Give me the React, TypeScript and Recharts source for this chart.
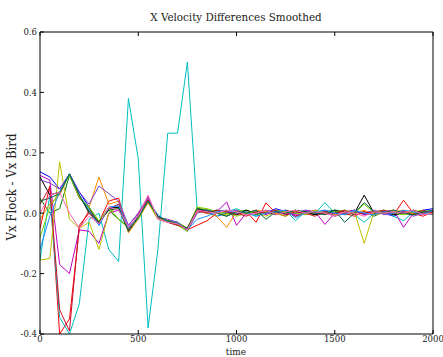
import React from "react";
import { LineChart, Line, XAxis, YAxis } from "recharts";

// sample times (every 50 steps)
const times = [
  0, 50, 100, 150, 200, 250, 300, 350, 400, 450, 500, 550, 600, 650, 700, 750, 800, 850, 900, 950, 1000,
  1050, 1100, 1150, 1200, 1250, 1300, 1350, 1400, 1450, 1500, 1550, 1600, 1650, 1700, 1750, 1800, 1850,
  1900, 1950, 2000,
];

const xTicks = [0, 500, 1000, 1500, 2000];
const yTicks = [-0.4, -0.2, 0.0, 0.2, 0.4, 0.6];

// one array per bird, Vx flock - Vx bird
const bird1 = [0.137, 0.12, 0.08, 0.13, 0.07, 0.02, -0.04, 0.02, 0.02, -0.05, -0.01, 0.04, -0.01, -0.03, -0.035, -0.055, 0.01, 0.005, -0.01, 0.0, 0.01, -0.005, 0.01, 0.0, 0.015, 0.005, -0.01, 0.005, 0.0, 0.01, -0.005, 0.0, 0.01, -0.005, 0.005, 0.0, -0.01, 0.005, 0.0, 0.01, 0.015];
const bird2 = [0.05, 0.0, 0.015, 0.125, 0.05, 0.015, -0.03, 0.01, -0.02, -0.045, -0.015, 0.035, -0.015, -0.025, -0.03, -0.05, 0.015, 0.01, 0.0, -0.01, 0.005, 0.01, -0.005, 0.005, 0.0, -0.01, 0.01, 0.0, -0.005, 0.005, 0.01, -0.005, 0.0, 0.005, -0.01, 0.005, 0.01, 0.0, -0.005, 0.005, 0.0];
const bird3 = [-0.05, 0.09, -0.4, -0.35, -0.05, 0.01, -0.03, 0.04, 0.05, -0.06, -0.01, 0.045, -0.01, -0.03, -0.035, -0.055, -0.04, -0.025, 0.0, 0.01, -0.005, 0.005, -0.03, 0.034, 0.0, 0.005, -0.01, 0.0, 0.01, -0.005, 0.005, 0.0, -0.01, 0.005, 0.0, 0.01, -0.005, 0.043, 0.0, -0.01, 0.005];
const bird4 = [-0.155, 0.06, -0.345, -0.4, -0.3, -0.02, 0.0, -0.12, -0.16, 0.38, 0.18, -0.38, -0.12, 0.265, 0.265, 0.5, 0.01, 0.0, -0.01, 0.005, 0.015, 0.0, -0.01, 0.005, 0.0, 0.01, -0.025, 0.005, 0.0, 0.035, 0.0, 0.01, -0.005, -0.03, 0.0, 0.01, -0.01, -0.025, 0.005, 0.0, -0.005];
const bird5 = [0.125, 0.11, -0.17, -0.2, -0.055, -0.06, -0.1, 0.0, 0.01, -0.04, 0.0, 0.055, -0.02, -0.03, -0.04, -0.05, 0.005, 0.01, 0.005, 0.037, -0.04, 0.0, 0.01, -0.005, 0.01, 0.0, -0.005, 0.01, 0.005, -0.037, 0.0, 0.005, 0.01, -0.005, 0.0, 0.005, 0.01, -0.047, 0.0, 0.005, -0.005];
const bird6 = [-0.155, -0.15, 0.17, -0.02, -0.05, -0.03, -0.12, 0.0, 0.02, -0.05, -0.015, 0.04, -0.02, -0.025, -0.03, -0.05, 0.02, 0.01, 0.0, -0.005, 0.01, 0.005, 0.0, -0.01, 0.005, 0.0, 0.01, -0.005, 0.0, 0.005, -0.01, 0.0, 0.005, -0.1, 0.005, 0.0, 0.01, -0.005, 0.0, 0.005, 0.0];
const bird7 = [0.12, 0.06, 0.07, 0.13, 0.06, 0.0, -0.03, 0.015, 0.02, -0.06, -0.01, 0.04, -0.01, -0.025, -0.035, -0.055, 0.015, 0.005, 0.01, 0.0, -0.005, 0.01, 0.0, 0.005, -0.005, 0.01, 0.0, 0.005, -0.005, 0.0, 0.01, 0.005, 0.0, 0.06, 0.0, 0.005, -0.005, 0.0, 0.01, 0.0, 0.005];
const bird8 = [-0.02, 0.03, 0.06, 0.13, 0.05, 0.02, 0.12, 0.03, 0.04, -0.065, -0.02, 0.035, -0.02, -0.03, -0.04, -0.05, 0.005, 0.0, -0.01, -0.047, 0.005, 0.0, 0.01, 0.005, 0.0, -0.01, 0.005, 0.0, 0.01, 0.0, -0.005, 0.005, 0.0, 0.01, -0.005, 0.0, 0.005, 0.01, -0.005, 0.0, 0.0];
const bird9 = [0.11, 0.1, 0.08, 0.13, 0.07, 0.03, 0.09, 0.065, 0.04, -0.04, 0.0, 0.05, -0.015, -0.02, -0.03, -0.06, 0.0, 0.01, 0.005, 0.0, 0.01, -0.005, 0.0, 0.01, 0.005, -0.005, 0.0, 0.01, 0.0, 0.005, -0.01, 0.0, 0.005, 0.0, 0.01, -0.005, 0.0, 0.005, -0.01, 0.0, 0.01];
const bird10 = [-0.08, 0.02, 0.07, 0.125, 0.055, 0.02, -0.025, 0.02, -0.02, -0.05, -0.02, 0.04, -0.02, -0.025, -0.04, -0.06, 0.02, 0.015, 0.005, 0.0, -0.01, 0.0, 0.005, 0.0, 0.01, 0.005, 0.0, -0.005, 0.01, 0.0, 0.005, 0.01, 0.0, 0.03, 0.0, 0.01, 0.0, -0.005, 0.005, 0.01, -0.005];
const bird11 = [0.03, 0.085, -0.32, -0.39, -0.04, 0.0, -0.035, 0.015, 0.03, -0.055, -0.005, 0.045, -0.01, -0.03, -0.04, -0.05, 0.01, 0.0, 0.01, 0.005, 0.0, -0.01, 0.005, 0.0, 0.01, -0.005, 0.005, 0.0, -0.01, 0.005, 0.0, 0.01, -0.005, 0.0, 0.005, 0.01, 0.0, 0.005, -0.005, 0.01, 0.0];
const bird12 = [-0.12, -0.01, 0.07, 0.13, 0.06, 0.01, -0.04, 0.02, 0.025, -0.05, -0.01, 0.04, -0.005, -0.03, -0.03, -0.055, -0.02, -0.01, 0.005, 0.01, 0.0, 0.005, -0.01, 0.0, 0.005, 0.01, -0.015, 0.0, 0.005, 0.01, 0.0, -0.005, 0.01, 0.0, -0.005, 0.005, 0.0, 0.01, 0.005, -0.005, 0.01];
const bird13 = [0.04, 0.05, 0.065, 0.13, 0.06, 0.005, -0.03, 0.01, 0.015, -0.06, -0.015, 0.04, -0.01, -0.025, -0.035, -0.05, 0.015, 0.01, 0.0, -0.01, 0.005, 0.0, 0.01, -0.02, 0.005, 0.0, 0.01, 0.005, 0.0, -0.005, 0.01, -0.03, 0.0, 0.035, 0.005, 0.0, 0.01, 0.0, -0.005, 0.005, 0.01];
const bird14 = [0.0, 0.06, 0.07, 0.0, -0.05, -0.01, -0.035, 0.02, 0.01, -0.045, -0.01, 0.06, -0.02, -0.03, -0.035, -0.055, 0.01, 0.005, 0.0, 0.01, 0.005, -0.005, 0.0, 0.01, -0.005, 0.005, 0.01, 0.0, 0.005, 0.0, -0.01, 0.005, 0.0, -0.01, 0.005, 0.0, 0.005, 0.0, 0.01, -0.005, 0.0];

const birds = [bird1, bird2, bird3, bird4, bird5, bird6, bird7, bird8, bird9, bird10, bird11, bird12, bird13, bird14];
const colors = [
  "#0000ff", "#008000", "#ff0000", "#00bfbf", "#bf00bf", "#bfbf00", "#000000",
  "#ff8c00", "#7b3fd0", "#7fd000", "#c8102e", "#1e90ff", "#006b3c", "#ff69b4",
];

const data = times.map((t, i) => {
  const row: any = { time: t };
  birds.forEach((b, j) => {
    row["b" + j] = b[i];
  });
  return row;
});

const font = "'DejaVu Serif Condensed', 'DejaVu Serif', serif";
const tickStyle = { fontSize: 9.5, fill: "#222", fontFamily: font };
const textStyle = { fontFamily: font, fill: "#222" };

const App = () => {
  return (
    <div style={{ position: "absolute", left: 0, top: 0, width: 443, height: 357, background: "#fff" }}>
      <LineChart
        width={443}
        height={357}
        data={data}
        margin={{ top: 31, right: 9, bottom: 22, left: 39 }}
      >
        <XAxis
          dataKey="time"
          type="number"
          domain={[0, 2000]}
          ticks={xTicks}
          height={1}
          tickSize={-4}
          tickMargin={5}
          stroke="#000"
          tick={tickStyle}
          allowDataOverflow
        />
        <XAxis
          xAxisId="top"
          dataKey="time"
          type="number"
          orientation="top"
          domain={[0, 2000]}
          ticks={xTicks}
          height={1}
          tickSize={-4}
          stroke="#000"
          tickFormatter={() => ""}
        />
        <YAxis
          type="number"
          domain={[-0.4, 0.6]}
          ticks={yTicks}
          width={1}
          tickSize={-4}
          tickMargin={7}
          stroke="#000"
          tick={tickStyle}
          tickFormatter={(v: number) => v.toFixed(1)}
          allowDataOverflow
        />
        <YAxis
          yAxisId="right"
          type="number"
          orientation="right"
          domain={[-0.4, 0.6]}
          ticks={yTicks}
          width={1}
          tickSize={-4}
          stroke="#000"
          tickFormatter={() => ""}
        />
        {birds.map((b, j) => (
          <Line
            key={j}
            dataKey={"b" + j}
            type="linear"
            stroke={colors[j]}
            strokeWidth={1}
            dot={false}
            isAnimationActive={false}
          />
        ))}
      </LineChart>
      <svg width={443} height={357} style={{ position: "absolute", left: 0, top: 0, pointerEvents: "none" }}>
        <text x={236} y={21} textAnchor="middle" fontSize={11.5} style={textStyle}>
          X Velocity Differences Smoothed
        </text>
        <text x={236} y={355} textAnchor="middle" fontSize={10} style={textStyle}>
          time
        </text>
        <text
          x={0}
          y={0}
          transform="translate(16,187) rotate(-90)"
          textAnchor="middle"
          fontSize={13}
          style={textStyle}
        >
          Vx Flock - Vx Bird
        </text>
      </svg>
    </div>
  );
};

export default App;
